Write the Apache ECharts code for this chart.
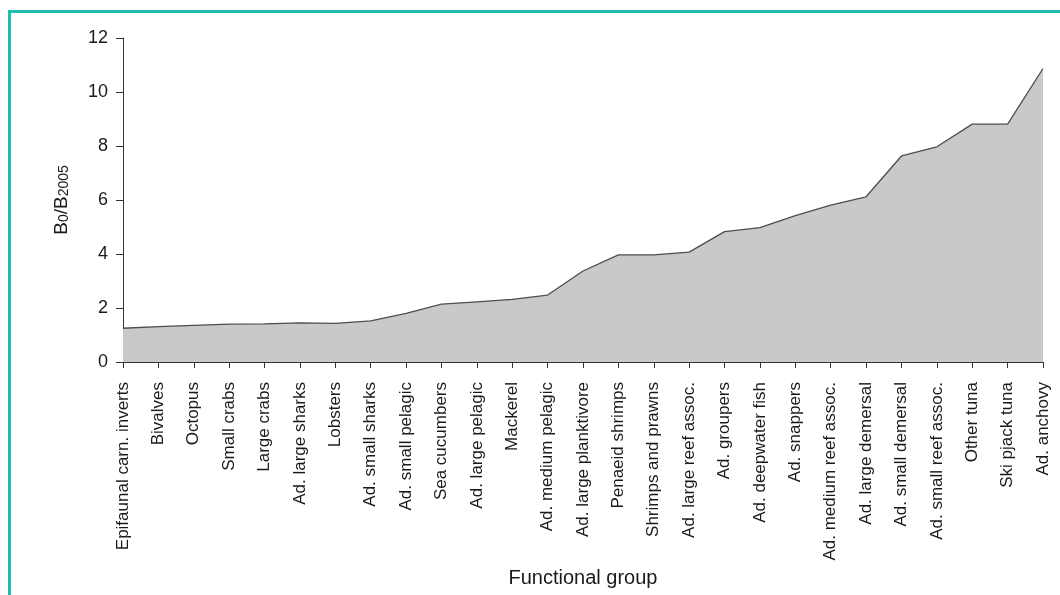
<!DOCTYPE html>
<html>
<head>
<meta charset="utf-8">
<script src="https://cdn.jsdelivr.net/npm/echarts@6/dist/echarts.min.js"></script>
<style>
  html, body { margin: 0; padding: 0; background: #fff; }
  #chart { width: 1060px; height: 595px; }
</style>
</head>
<body>
<div id="chart"></div>
<script>
const categories = [
  'Epifaunal carn. inverts', 'Bivalves', 'Octopus', 'Small crabs', 'Large crabs',
  'Ad. large sharks', 'Lobsters', 'Ad. small sharks', 'Ad. small pelagic', 'Sea cucumbers',
  'Ad. large pelagic', 'Mackerel', 'Ad. medium pelagic', 'Ad. large planktivore', 'Penaeid shrimps',
  'Shrimps and prawns', 'Ad. large reef assoc.', 'Ad. groupers', 'Ad. deepwater fish', 'Ad. snappers',
  'Ad. medium reef assoc.', 'Ad. large demersal', 'Ad. small demersal', 'Ad. small reef assoc.', 'Other tuna',
  'Ski pjack tuna', 'Ad. anchovy'
];
const ratioValues = [
  1.25, 1.31, 1.36, 1.40, 1.41,
  1.45, 1.43, 1.52, 1.80, 2.14,
  2.23, 2.32, 2.48, 3.37, 3.97,
  3.97, 4.07, 4.83, 4.98, 5.42,
  5.81, 6.12, 7.63, 7.97, 8.81,
  8.81, 10.87
];
const yTicks = { min: 0, max: 12, interval: 2 };

const chart = echarts.init(document.getElementById('chart'));
const font = 'Liberation Sans, Arial, sans-serif';
chart.setOption({
  animation: false,
  backgroundColor: '#ffffff',
  graphic: [{
    type: 'rect',
    left: 7, top: 9,
    shape: { width: 1200, height: 800 },
    style: { fill: 'none', stroke: '#20bcae', lineWidth: 3 },
    silent: true
  }],
  grid: { left: 123, right: 17, top: 38, bottom: 233, containLabel: false },
  xAxis: {
    type: 'category',
    data: categories,
    boundaryGap: false,
    name: 'Functional group',
    nameLocation: 'middle',
    nameGap: 206,
    nameTextStyle: { fontFamily: font, fontSize: 20, color: '#1a1a1a' },
    axisLine: { lineStyle: { color: '#333', width: 1 } },
    axisTick: { show: true, length: 6, lineStyle: { color: '#333' } },
    axisLabel: {
      rotate: 90, interval: 0, margin: 20,
      fontFamily: font, fontSize: 17, color: '#1a1a1a'
    },
    splitLine: { show: false }
  },
  yAxis: {
    type: 'value',
    min: yTicks.min, max: yTicks.max, interval: yTicks.interval,
    name: '{b|B}{s|0}{b|/B}{s|2005}',
    nameLocation: 'middle',
    nameGap: 52,
    nameTextStyle: {
      fontFamily: font, color: '#1a1a1a',
      rich: {
        b: { fontFamily: font, fontSize: 19, color: '#1a1a1a', verticalAlign: 'bottom', lineHeight: 24 },
        s: { fontFamily: font, fontSize: 14, color: '#1a1a1a', verticalAlign: 'bottom', lineHeight: 14 }
      }
    },
    axisLine: { show: true, lineStyle: { color: '#333', width: 1 } },
    axisTick: { show: true, length: 7, inside: false, lineStyle: { color: '#333' } },
    axisLabel: { margin: 15, fontFamily: font, fontSize: 18, color: '#1a1a1a' },
    splitLine: { show: false }
  },
  series: [{
    type: 'line',
    data: ratioValues,
    symbol: 'none',
    lineStyle: { color: '#4d4d4d', width: 1.3 },
    areaStyle: { color: '#c9c9c9', opacity: 1 },
    z: 1
  }]
});
</script>
</body>
</html>
